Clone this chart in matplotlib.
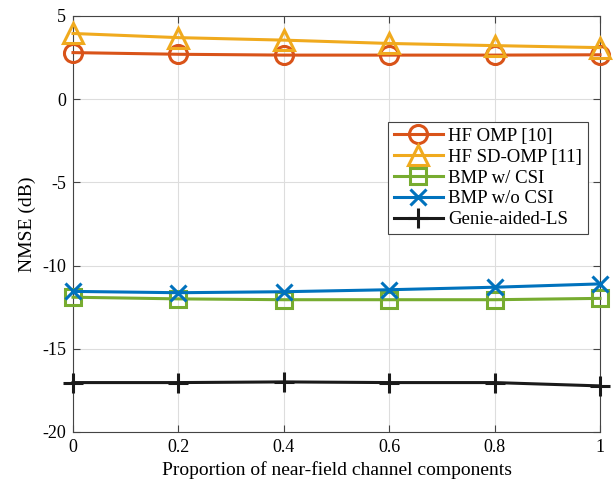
import numpy as np
import matplotlib
matplotlib.use("Agg")
import matplotlib.pyplot as plt

plt.rcParams["font.family"] = ["Liberation Serif", "DejaVu Serif"]
plt.rcParams["axes.unicode_minus"] = False

# data
proportion = [0, 0.2, 0.4, 0.6, 0.8, 1.0]
hf_omp = [2.8, 2.7, 2.65, 2.65, 2.65, 2.67]
hf_sd_omp = [3.95, 3.7, 3.55, 3.35, 3.22, 3.1]
bmp_csi = [-11.9, -12.0, -12.05, -12.05, -12.05, -11.97]
bmp_no_csi = [-11.55, -11.63, -11.57, -11.45, -11.3, -11.1]
genie_ls = [-17.03, -17.03, -16.99, -17.03, -17.03, -17.23]

series = [
    ("HF OMP [10]", hf_omp, "#D95319", "o"),
    ("HF SD-OMP [11]", hf_sd_omp, "#F0AA1E", "^"),
    ("BMP w/ CSI", bmp_csi, "#77AC30", "s"),
    ("BMP w/o CSI", bmp_no_csi, "#0072BD", "x"),
    ("Genie-aided-LS", genie_ls, "#1A1A1A", "+"),
]

fig = plt.figure(figsize=(6.15, 4.92), dpi=100)
ax = fig.add_axes([73 / 615, 1 - 432 / 492, (600 - 73) / 615, (432 - 16) / 492])

for label, vals, color, marker in series:
    ms = {"o": 13, "^": 15, "s": 11, "x": 12, "+": 14}[marker]
    ax.plot(proportion, vals, color=color, marker=marker, markersize=ms,
            markerfacecolor="none", markeredgewidth=2.2, linewidth=2.2,
            label=label, clip_on=False, zorder=3)

ax.set_xlim(0, 1)
ax.set_ylim(-20, 5)
ax.set_xticks([0, 0.2, 0.4, 0.6, 0.8, 1])
ax.set_xticklabels(["0", "0.2", "0.4", "0.6", "0.8", "1"])
ax.set_yticks([-20, -15, -10, -5, 0, 5])
ax.grid(True, color="#DDDDDD", linewidth=0.8)
ax.set_axisbelow(True)
ax.tick_params(direction="in", top=True, right=True, labelsize=13, length=5,
               color="#444444", pad=5)
for s in ax.spines.values():
    s.set_color("#444444")
    s.set_linewidth(0.8)

ax.set_xlabel("Proportion of near-field channel components", fontsize=14)
ax.set_ylabel("NMSE (dB)", fontsize=14)

leg = ax.legend(loc="upper right", bbox_to_anchor=(0.977, 0.745), fontsize=13.5,
                fancybox=False, edgecolor="#444444", framealpha=1,
                handlelength=2.6, borderpad=0.3, labelspacing=0.2,
                handletextpad=0.3, borderaxespad=0)
leg.get_frame().set_linewidth(0.8)

fig.savefig("out.png", dpi=100)
